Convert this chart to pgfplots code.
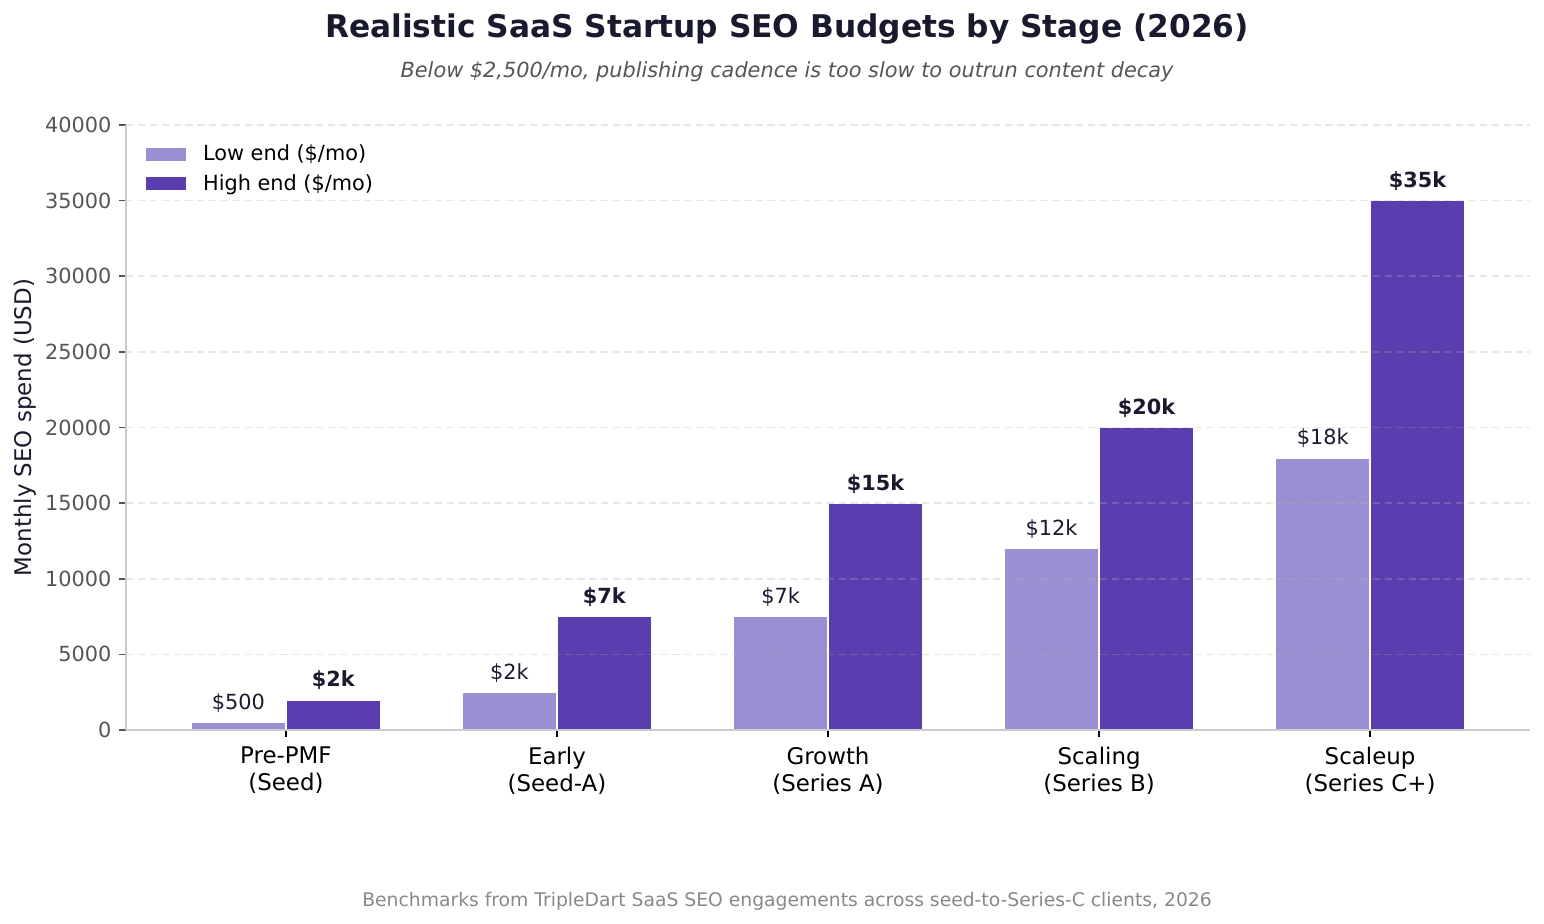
\documentclass[border=0pt]{standalone}
\usepackage{fontspec}
\setmainfont{DejaVu Sans}
\usepackage{pgfplots}
\pgfplotsset{compat=1.18}
\definecolor{lowc}{HTML}{9B8FD3}
\definecolor{highc}{HTML}{5A3DAE}
\definecolor{titlec}{HTML}{1A1A2E}
\definecolor{gridc}{HTML}{B0B0B0}
\definecolor{spinec}{HTML}{CCCCCC}
\definecolor{tickc}{HTML}{555555}
\definecolor{footc}{HTML}{888888}
\begin{document}
\begin{tikzpicture}
\useasboundingbox (-60.48pt,-93.12pt) rectangle (680.64pt,350.4pt);
\begin{axis}[
  at={(0,0)}, anchor=south west,
  width=673.92pt, height=290.4pt, scale only axis,
  xmin=-0.59, xmax=4.59, ymin=0, ymax=40000,
  ytick={0,5000,10000,15000,20000,25000,30000,35000,40000},
  xtick={0,1,2,3,4},
  xticklabels={{Pre-PMF\\(Seed)},{Early\\(Seed-A)},{Growth\\(Series A)},{Scaling\\(Series B)},{Scaleup\\(Series C+)}},
  xticklabel style={align=center, font=\fontsize{11}{13}\selectfont, text=black, inner sep=0pt, anchor=north, yshift=-4.5pt},
  yticklabel style={font=\fontsize{10}{12}\selectfont, text=tickc, /pgf/number format/fixed, /pgf/number format/1000 sep={}, /pgf/number format/assume math mode=true},
  scaled y ticks=false,
  axis lines*=left,
  axis line style={draw=spinec, line width=1pt},
  tick align=outside,
  major tick length=3.5pt,
  ytick style={draw=tickc, line width=0.8pt},
  xtick style={draw=black, line width=0.8pt},
  ymajorgrids,
  grid style={draw=gridc, opacity=0.3, line width=0.8pt, dash pattern=on 3.5pt off 2.2pt},
  axis on top,
  ylabel={Monthly SEO spend (USD)},
  ylabel style={font=\fontsize{11}{13}\selectfont, text=titlec, at={(axis description cs:-0.072,0.5)}, anchor=center},
  ybar, bar width=0.35,
  nodes near coords, point meta=explicit symbolic,
  every node near coord/.append style={anchor=base, inner sep=0pt, yshift=6.2pt, text=titlec},
  legend style={at={(axis description cs:0,1)}, anchor=north west, xshift=6.6pt, yshift=-7.4pt,
    draw=none, fill=none, font=\fontsize{10}{12}\selectfont, row sep=5pt,
    nodes={inner sep=0pt}},
  legend cell align=left,
  legend image code/.code={\path[#1, draw=none] (0pt,-3.05pt) rectangle (19.2pt,3.05pt); \path (26.8pt,0pt);},
]
\addplot[bar shift=-0.175, fill=lowc, draw=white, line width=0.8pt,
  every node near coord/.append style={font=\fontsize{10}{12}\selectfont}]
  coordinates {(0,500)[\$500] (1,2500)[\$2k] (2,7500)[\$7k] (3,12000)[\$12k] (4,18000)[\$18k]};
\addplot[bar shift=0.175, fill=highc, draw=white, line width=0.8pt,
  every node near coord/.append style={font=\bfseries\fontsize{10}{12}\selectfont}]
  coordinates {(0,2000)[\$2k] (1,7500)[\$7k] (2,15000)[\$15k] (3,20000)[\$20k] (4,35000)[\$35k]};
\legend{Low end (\$/mo), High end (\$/mo)}
\end{axis}
\node[anchor=base, font=\bfseries\fontsize{15}{18}\selectfont, text=titlec, inner sep=0pt] at (317.3pt,332.5pt) {Realistic SaaS Startup SEO Budgets by Stage (2026)};
\node[anchor=base, font=\itshape\fontsize{10}{12}\selectfont, text=tickc, inner sep=0pt] at (317.3pt,313.3pt) {Below \$2,500/mo, publishing cadence is too slow to outrun content decay};
\node[anchor=base, font=\fontsize{9}{11}\selectfont, text=footc, inner sep=0pt] at (317.3pt,-84.5pt) {Benchmarks from TripleDart SaaS SEO engagements across seed-to-Series-C clients, 2026};
\end{tikzpicture}
\end{document}
